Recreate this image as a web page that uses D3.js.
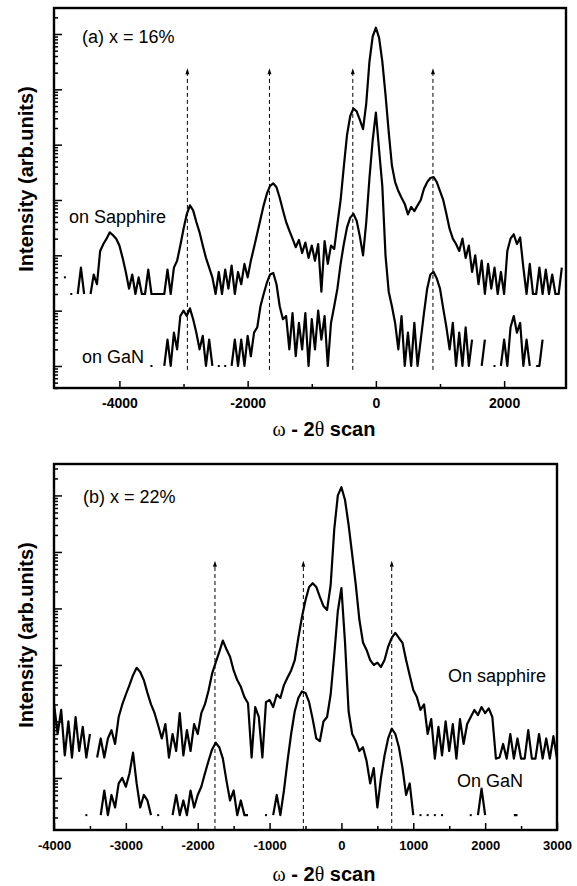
<!DOCTYPE html>
<html>
<head>
<meta charset="utf-8">
<script src="https://cdn.jsdelivr.net/npm/d3@7"></script>
<style>
  body { margin: 0; background: #fff; }
  svg { display: block; }
</style>
</head>
<body>
<svg id="chart"></svg>
<script>
const STEP = 50;

// (a) x = 16 %
const sapphireAStart = -4850;
const sapphireA = [
  40, 0, 20, 0, 20, 60, 20, 0, 20, 45,
  30, 120, 160, 200, 260, 230, 200, 150, 90, 50,
  25, 45, 20, 40, 20, 20, 55, 20, 20, 20,
  20, 20, 55, 20, 60, 80, 150, 300, 550, 800,
  650, 400, 260, 150, 90, 60, 40, 20, 50, 20,
  55, 25, 65, 20, 50, 30, 70, 40, 80, 140,
  250, 450, 800, 1300, 1800, 2000, 1700, 1100, 650, 400,
  280, 200, 140, 190, 110, 170, 90, 150, 80, 160,
  22, 180, 70, 150, 130, 370, 1000, 4000, 15000, 33000,
  45000, 40000, 28000, 19000, 56000, 320000, 900000, 1300000, 850000, 320000,
  80000, 17000, 4200, 2100, 1450, 1100, 850, 550, 750, 630,
  800, 1000, 1600, 2100, 2500, 2600, 2100, 1450, 1000, 560,
  300, 200, 160, 120, 200, 90, 150, 50, 100, 30,
  80, 20, 70, 25, 60, 20, 50, 20, 120, 200,
  240, 160, 210, 60, 20, 70, 20, 20, 60, 20,
  55, 20, 45, 20, 20, 60
];
const ganAStart = -3500;
const ganA = [
  1, 0, 0, 0, 1, 3, 1, 4, 2, 8,
  10, 8, 11, 7, 4, 2, 3.5, 1, 3, 1,
  0, 1, 0, 1, 0, 1, 3, 1, 3, 1,
  3.5, 1.5, 4, 5, 12, 20, 32, 45, 48, 30,
  12, 7, 8, 2, 9, 1.5, 6, 2, 9, 1,
  7, 2, 10, 3, 8, 1, 6, 12, 25, 70,
  160, 320, 480, 560, 420, 220, 100, 400, 2500, 12000,
  38000, 8000, 1800, 100, 22, 12, 6, 2, 8, 1,
  4, 1, 6, 1, 3, 9, 25, 45, 50, 38,
  25, 11, 5, 2, 6, 1, 4, 1, 5, 1,
  3, 0, 0, 1, 3, 0, 0, 1, 0, 1,
  3, 1, 5, 8, 4, 6, 1, 3, 1, 0,
  1, 1, 3
];
const arrowsA = [-2940, -1660, -360, 890];
const arrowSpanA = [0.85, 2.4e5];
const xTicksA = [-4000, -2000, 0, 2000];
const xMinorA = [-3000, -1000, 1000];

// (b) x = 22 %
const sapphireBStart = -4000;
const sapphireB = [
  210, 60, 160, 25, 100, 23, 120, 30, 80, 23,
  60, 0, 23, 50, 23, 50, 70, 40, 120, 200,
  300, 440, 660, 890, 750, 540, 320, 200, 140, 85,
  50, 90, 23, 60, 30, 140, 25, 70, 30, 90,
  60, 140, 200, 350, 700, 1100, 1700, 2700, 1900, 1400,
  800, 540, 410, 270, 210, 23, 180, 120, 23, 220,
  240, 180, 300, 260, 440, 600, 800, 1200, 3000, 7000,
  14000, 24000, 28000, 24000, 16000, 11000, 9400, 26000, 250000, 1000000,
  1400000, 830000, 300000, 90000, 26000, 6300, 2500, 1840, 1220, 1000,
  1100, 920, 1220, 2100, 3000, 3700, 3000, 2460, 1220, 660,
  360, 270, 160, 200, 60, 110, 22, 80, 25, 100,
  30, 90, 22, 110, 40, 90, 120, 160, 130, 180,
  140, 170, 120, 22, 23, 40, 22, 60, 22, 50,
  22, 22, 70, 22, 22, 60, 22, 50, 22, 55,
  22
];
const ganBStart = -3550;
const ganB = [
  2.2, 0, 0, 0, 2.2, 6, 2.2, 5, 3, 8,
  10, 7, 12, 28, 8, 3, 5, 4, 2.2, 0,
  2.2, 0, 0, 0, 2.2, 5, 2.2, 4, 2.2, 6,
  3, 5, 7, 12, 20, 32, 42, 35, 22, 9,
  4, 6, 2.2, 4, 2.2, 2.2, 0, 0, 0, 0,
  2.2, 0, 2.2, 5, 2.2, 6, 20, 60, 150, 260,
  340, 320, 220, 110, 50, 45, 100, 120, 300, 1500,
  9000, 23000, 2500, 150, 60, 45, 30, 35, 20, 8,
  15, 3, 10, 25, 50, 75, 60, 35, 15, 5,
  8, 2.2, 0, 2.2, 0, 2.2, 0, 2.2, 0, 2.2,
  0, 0, 0, 0, 0, 0, 0, 2.2, 0, 2.2,
  6.5, 2.2, 0, 0, 0, 0, 0, 0, 0, 2.2,
  2.2
];
const arrowsB = [-1760, -530, 700];
const arrowSpanB = [1.2, 7e4];
const xTicksB = [-4000, -3000, -2000, -1000, 0, 1000, 2000, 3000];
const xMinorB = [-3500, -2500, -1500, -500, 500, 1500, 2500];

const W = 577, H = 886;
const SANS = "'Liberation Sans', Arial, Helvetica, sans-serif";
const SERIF = "'Liberation Serif', 'Times New Roman', serif";

const svg = d3.select("#chart").attr("width", W).attr("height", H);

function toPoints(start, values) {
  return values.map((v, i) => ({ x: start + i * STEP, y: v }));
}

function drawPanel(p) {
  const g = svg.append("g");
  const x = d3.scaleLinear().domain(p.xDomain).range([p.left, p.right]);
  const y = d3.scaleLog().domain(p.yDomain).range([p.bottom, p.top]);

  const line = d3.line()
    .defined(d => d.y > 0)
    .x(d => x(d.x))
    .y(d => y(d.y));

  p.curves.forEach(c => {
    const pts = toPoints(c.start, c.values);
    g.append("path")
      .datum(pts)
      .attr("d", line)
      .attr("fill", "none")
      .attr("stroke", "#000")
      .attr("stroke-width", 2.2)
      .attr("stroke-linejoin", "round");

    // single counts between empty channels show up as dots
    const lone = pts.filter((d, i) =>
      d.y > 0 && !(i > 0 && pts[i - 1].y > 0) && !(i < pts.length - 1 && pts[i + 1].y > 0));
    g.selectAll(null)
      .data(lone)
      .join("rect")
      .attr("x", d => x(d.x) - 1)
      .attr("y", d => y(d.y) - 1)
      .attr("width", 2)
      .attr("height", 2)
      .attr("fill", "#000");
  });

  // dashed arrows marking the satellite peaks
  const arrows = g.selectAll(null).data(p.arrows).join("g");
  arrows.append("line")
    .attr("x1", d => x(d)).attr("x2", d => x(d))
    .attr("y1", y(p.arrowSpan[0]))
    .attr("y2", y(p.arrowSpan[1]) + 4)
    .attr("stroke", "#000")
    .attr("stroke-width", 1)
    .attr("stroke-dasharray", "4,3");
  arrows.append("path")
    .attr("d", d => {
      const ax = x(d), ay = y(p.arrowSpan[1]);
      return `M${ax},${ay}L${ax - 2},${ay + 6}L${ax + 2},${ay + 6}Z`;
    })
    .attr("fill", "#000");

  // log axis, ticks pointing inward
  const isDecade = v => Math.abs(Math.log10(v) - Math.round(Math.log10(v))) < 1e-6;
  const allY = y.ticks();
  const yMajor = allY.filter(isDecade);
  const yMinor = allY.filter(v => !isDecade(v));

  const tickStyle = sel => {
    sel.select(".domain").remove();
    sel.selectAll("line").attr("stroke", "#000").attr("stroke-width", 1.5);
  };

  g.append("g")
    .attr("transform", `translate(${p.left},0)`)
    .call(d3.axisLeft(y).tickValues(yMinor).tickSize(-4).tickFormat(""))
    .call(tickStyle);
  g.append("g")
    .attr("transform", `translate(${p.left},0)`)
    .call(d3.axisLeft(y).tickValues(yMajor).tickSize(-8).tickFormat(""))
    .call(tickStyle);

  g.append("g")
    .attr("transform", `translate(0,${p.bottom})`)
    .call(d3.axisBottom(x).tickValues(p.xMinor).tickSize(-4).tickFormat(""))
    .call(tickStyle);
  const xa = g.append("g")
    .attr("transform", `translate(0,${p.bottom})`)
    .call(d3.axisBottom(x).tickValues(p.xTicks).tickSize(-7)
      .tickPadding(p.tickPad).tickFormat(d => String(d)))
    .call(tickStyle);
  xa.attr("font-family", SANS).attr("font-size", p.tickFont).attr("font-weight", "bold");
  xa.selectAll("text").attr("fill", "#000");

  // frame
  g.append("rect")
    .attr("x", p.left).attr("y", p.top)
    .attr("width", p.right - p.left).attr("height", p.bottom - p.top)
    .attr("fill", "none")
    .attr("stroke", "#000")
    .attr("stroke-width", 2.4);

  // texts
  g.append("text")
    .attr("transform", `translate(33,${p.yTitleY}) rotate(-90)`)
    .attr("text-anchor", "middle")
    .attr("font-family", SANS)
    .attr("font-weight", "bold")
    .attr("font-size", 20)
    .text("Intensity (arb.units)");

  const xt = g.append("text")
    .attr("x", 324).attr("y", p.xTitleY)
    .attr("text-anchor", "middle")
    .attr("font-family", SANS)
    .attr("font-weight", "bold")
    .attr("font-size", 20);
  xt.append("tspan").attr("font-family", SERIF).attr("font-weight", "normal").text("\u03c9");
  xt.append("tspan").text(" - 2");
  xt.append("tspan").attr("font-family", SERIF).attr("font-weight", "normal").text("\u03b8");
  xt.append("tspan").text(" scan");

  p.labels.forEach(l => {
    g.append("text")
      .attr("x", l.x).attr("y", l.y)
      .attr("font-family", SANS)
      .attr("font-size", 18)
      .text(l.text);
  });
}

drawPanel({
  left: 54, right: 566, top: 8, bottom: 388,
  xDomain: [-5020, 2965], yDomain: [0.4, 2.95e6],
  curves: [
    { start: sapphireAStart, values: sapphireA },
    { start: ganAStart, values: ganA }
  ],
  arrows: arrowsA, arrowSpan: arrowSpanA,
  xTicks: xTicksA, xMinor: xMinorA,
  tickPad: 10, tickFont: 14,
  yTitleY: 179, xTitleY: 436,
  labels: [
    { text: "(a) x = 16%", x: 82, y: 43 },
    { text: "on Sapphire", x: 69, y: 223 },
    { text: "on GaN", x: 82, y: 363 }
  ]
});

drawPanel({
  left: 54, right: 557, top: 464, bottom: 830,
  xDomain: [-4000, 3000], yDomain: [1.2, 3.6e6],
  curves: [
    { start: sapphireBStart, values: sapphireB },
    { start: ganBStart, values: ganB }
  ],
  arrows: arrowsB, arrowSpan: arrowSpanB,
  xTicks: xTicksB, xMinor: xMinorB,
  tickPad: 11, tickFont: 13,
  yTitleY: 635, xTitleY: 881,
  labels: [
    { text: "(b) x = 22%", x: 83, y: 503 },
    { text: "On sapphire", x: 448, y: 682 },
    { text: "On GaN", x: 457, y: 787 }
  ]
});
</script>
</body>
</html>
